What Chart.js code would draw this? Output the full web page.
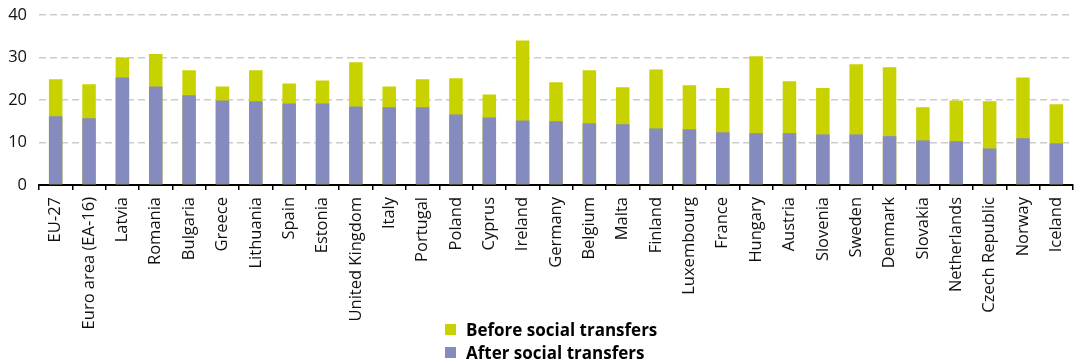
<!DOCTYPE html>
<html>
<head>
<meta charset="utf-8">
<script src="https://cdn.jsdelivr.net/npm/chart.js@4.4.0/dist/chart.umd.min.js"></script>
<style>
  html, body { margin: 0; padding: 0; background: #fff; }
  #wrap { position: relative; width: 1077px; height: 362px; }
  #legend { position: absolute; left: 445px; top: 318px; font: bold 17px "Open Sans", sans-serif; color: #000; }
  #legend div { display: flex; align-items: center; height: 23px; }
  #legend span.box { display: inline-block; width: 11px; height: 11px; margin-right: 10px; }
</style>
</head>
<body>
<div id="wrap">
  <canvas id="chart" width="1077" height="362"></canvas>
  <div id="legend"></div>
</div>
<script>
const countries = ["EU-27", "Euro area (EA-16)", "Latvia", "Romania", "Bulgaria", "Greece", "Lithuania", "Spain", "Estonia", "United Kingdom",
  "Italy", "Portugal", "Poland", "Cyprus", "Ireland", "Germany", "Belgium", "Malta", "Finland", "Luxembourg",
  "France", "Hungary", "Austria", "Slovenia", "Sweden", "Denmark", "Slovakia", "Netherlands", "Czech Republic", "Norway", "Iceland"];

const beforeTransfers = [24.9, 23.7, 30.0, 30.8, 27.0, 23.2, 27.0, 23.9, 24.6, 28.9,
  23.2, 24.9, 25.1, 21.3, 34.0, 24.2, 27.0, 23.0, 27.2, 23.5,
  22.8, 30.3, 24.4, 22.8, 28.4, 27.7, 18.3, 19.9, 19.7, 25.3, 19.0];

const afterTransfers = [16.2, 15.7, 25.3, 23.2, 21.1, 19.9, 19.7, 19.2, 19.2, 18.5,
  18.3, 18.3, 16.6, 15.9, 15.2, 15.0, 14.5, 14.3, 13.3, 13.1,
  12.4, 12.2, 12.2, 11.9, 11.9, 11.5, 10.5, 10.3, 8.6, 11.0, 9.8];

const yTicks = [0, 10, 20, 30, 40];

const GREEN = "#c8d200";
const PURPLE = "#858bbe";

const chart = new Chart(document.getElementById("chart"), {
  type: "bar",
  data: {
    labels: countries,
    datasets: [
      { label: "After social transfers", data: afterTransfers, backgroundColor: PURPLE, inflateAmount: 0 },
      { label: "Before social transfers", data: beforeTransfers, backgroundColor: GREEN, inflateAmount: 0 }
    ]
  },
  options: {
    responsive: false,
    animation: false,
    layout: { padding: { top: 15, right: 4, left: 0, bottom: 0 } },
    datasets: { bar: { barPercentage: 0.81, categoryPercentage: 0.5 } },
    plugins: {
      legend: { display: false },
      tooltip: { enabled: false }
    },
    scales: {
      x: {
        stacked: true,
        afterFit: s => { s.height = 177; s.paddingLeft = 0; s.paddingRight = 0; },
        border: { display: true, color: "#000", width: 2 },
        grid: { display: true, drawOnChartArea: false, drawTicks: true, tickLength: 5, color: "#000", lineWidth: 1.5, offset: true },
        ticks: {
          minRotation: 90, maxRotation: 90, autoSkip: false, padding: 7,
          color: "#111", font: { family: "'Open Sans', sans-serif", size: 16.5 }
        }
      },
      y: {
        min: 0, max: 40,
        afterFit: s => { s.width = 39; s.paddingTop = 0; s.paddingBottom = 0; },
        afterBuildTicks: s => { s.ticks = yTicks.map(v => ({ value: v })); },
        border: { display: false, dash: [7, 4] },
        grid: {
          drawTicks: false,
          color: ctx => ctx.tick && ctx.tick.value === 0 ? "rgba(0,0,0,0)" : "#cccccc",
          lineWidth: 1.5
        },
        ticks: {
          padding: 12, color: "#111",
          font: { family: "'Open Sans', sans-serif", size: 16.5 }
        }
      }
    }
  }
});

// legend lines, stacked vertically under the plot
const legendEl = document.getElementById("legend");
[["Before social transfers", GREEN], ["After social transfers", PURPLE]].forEach(([name, col]) => {
  const row = document.createElement("div");
  row.innerHTML = '<span class="box" style="background:' + col + '"></span>' + name;
  legendEl.appendChild(row);
});
</script>
</body>
</html>
